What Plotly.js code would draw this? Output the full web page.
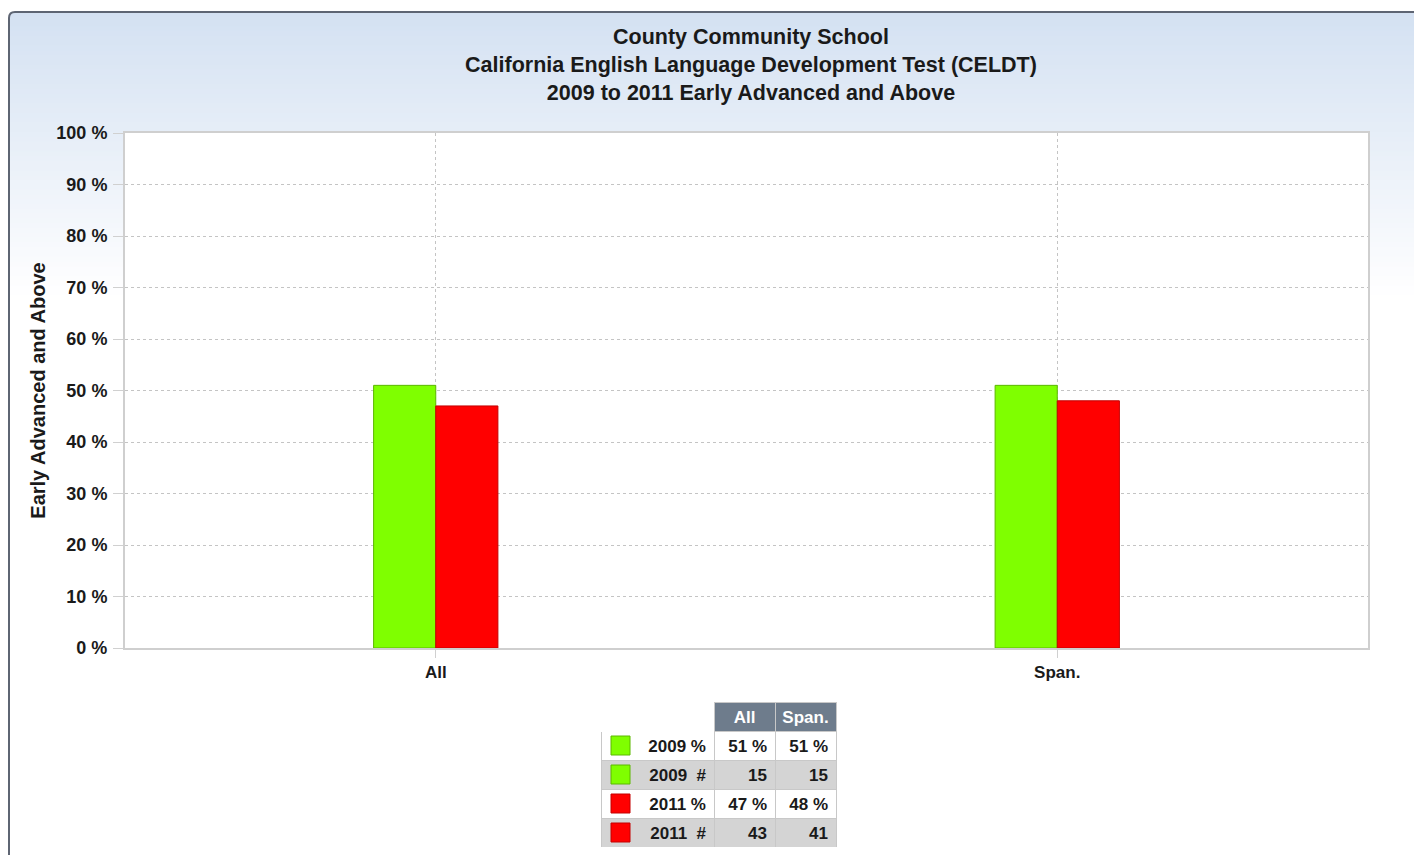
<!DOCTYPE html>
<html><head><meta charset="utf-8">
<script src="https://cdn.plot.ly/plotly-3.0.1.min.js"></script>
<style>html,body{margin:0;padding:0;background:#fff;overflow:hidden}</style>
</head><body><div id="chart" style="width:1414px;height:855px"></div>
<script>
// ---- data ----
const categories = ['All', 'Span.'];
const seriesNames = ['2009 %', '2011 %'];
const pct2009 = [51, 51];
const pct2011 = [47, 48];
const count2009 = [15, 15];
const count2011 = [43, 41];
const rowLabels = ['2009 %', '2009  #', '2011 %', '2011  #'];
const yTickVals = [0, 10, 20, 30, 40, 50, 60, 70, 80, 90, 100];
const yTickLabels = ['0 %', '10 %', '20 %', '30 %', '40 %', '50 %', '60 %', '70 %', '80 %', '90 %', '100 %'];
const titleLines = ['County Community School', 'California English Language Development Test (CELDT)', '2009 to 2011 Early Advanced and Above'];
const yTitle = 'Early Advanced and Above';

// ---- styles ----
const W = 1414, H = 855;
const M = {l: 125, r: 46, t: 133, b: 8};
const plotBottomPx = 648;
const fam = 'Liberation Sans, Arial, sans-serif';
const green = '#7fff00', greenLine = '#5cb800';
const red = '#ff0000', redLine = '#c40000';
const px2x = p => (p - M.l) / (W - M.l - M.r);
const py2y = p => (H - M.b - p) / (H - M.t - M.b);

const bold = (size, color) => ({family: fam, size: size, color: color || '#1a1a1a', weight: 'bold'});

// ---- traces ----
const traces = [
  {type: 'bar', x: categories, y: pct2009, name: seriesNames[0],
   marker: {color: green, line: {color: greenLine, width: 1}}},
  {type: 'bar', x: categories, y: pct2011, name: seriesNames[1],
   marker: {color: red, line: {color: redLine, width: 1}}}
];

const colAll = [pct2009[0] + ' %', String(count2009[0]), pct2011[0] + ' %', String(count2011[0])];
const colSpan = [pct2009[1] + ' %', String(count2009[1]), pct2011[1] + ' %', String(count2011[1])];
const rowFill = ['#ffffff', '#d4d4d4', '#ffffff', '#d4d4d4'];
const swatchFill = [green, green, red, red];
const swatchLine = [greenLine, greenLine, redLine, redLine];

traces.push({
  type: 'table',
  domain: {x: [px2x(601), px2x(836)], y: [0, py2y(702)]},
  columnwidth: [113, 61, 61],
  header: {
    values: ['', categories[0], categories[1]],
    height: 29,
    align: 'center',
    fill: {color: ['#ffffff', '#6e7c8c', '#6e7c8c']},
    line: {color: ['#ffffff', '#c8c8c8', '#c8c8c8'], width: 1},
    font: bold(17, '#ffffff')
  },
  cells: {
    values: [rowLabels, colAll, colSpan],
    height: 29,
    align: ['right', 'right', 'right'],
    fill: {color: [rowFill, rowFill, rowFill]},
    line: {color: '#c8c8c8', width: 1},
    font: bold(17, '#1a1a1a')
  }
});

// ---- decoration shapes ----
const shapes = [];
const gTop = 12, gBot = 300, nBands = 60;
const c0 = [212, 225, 242], c1 = [255, 255, 255];
for (let i = 0; i < nBands; i++) {
  const t = i / (nBands - 1);
  const c = c0.map((v, k) => Math.round(v + (c1[k] - v) * t));
  const y0 = gTop + (gBot - gTop) * i / nBands;
  const y1 = gTop + (gBot - gTop) * (i + 1) / nBands + 1;
  shapes.push({type: 'rect', xref: 'paper', yref: 'paper', layer: 'below',
    x0: px2x(10), x1: px2x(W + 5), y0: py2y(y1), y1: py2y(y0),
    fillcolor: `rgb(${c[0]},${c[1]},${c[2]})`, line: {width: 0}});
}
// white plot area
shapes.push({type: 'rect', xref: 'paper', yref: 'paper', layer: 'below',
  x0: 0, x1: 1, y0: py2y(plotBottomPx), y1: 1, fillcolor: '#ffffff', line: {width: 0}});
// frame border (top-left rounded)
const fx = px2x(9), fy = py2y(12), r = 6;
shapes.push({type: 'path', xref: 'paper', yref: 'paper', layer: 'above',
  path: `M ${fx} ${py2y(H + 5)} L ${fx} ${py2y(12 + r)} Q ${fx} ${fy} ${px2x(9 + r)} ${fy} L ${px2x(W + 5)} ${fy}`,
  line: {color: '#5e6573', width: 2}});
// legend swatches in table
rowLabels.forEach((lab, i) => {
  const top = 702 + 29 * (i + 1) + 5;
  shapes.push({type: 'rect', xref: 'paper', yref: 'paper', layer: 'above',
    x0: px2x(611), x1: px2x(630), y0: py2y(top + 19), y1: py2y(top),
    fillcolor: swatchFill[i], line: {color: swatchLine[i], width: 1}});
});

const layout = {
  width: W, height: H,
  margin: M,
  paper_bgcolor: '#ffffff',
  plot_bgcolor: '#ffffff',
  showlegend: false,
  hovermode: false,
  barmode: 'group',
  bargap: 0.8,
  bargroupgap: 0,
  title: {
    text: titleLines.join('<br>'),
    font: {family: fam, size: 21.5, color: '#1a1a1a', weight: 'bold'},
    xref: 'paper', x: px2x(751), xanchor: 'center',
    yref: 'container', y: 1 - 44 / H, yanchor: 'top'
  },
  xaxis: {
    type: 'category', range: [-0.5, 1.5],
    showgrid: true, gridcolor: '#c4c4c4', griddash: 'dot', gridwidth: 1,
    ticks: 'outside', ticklen: 8, tickcolor: '#d0d0d0',
    showline: true, mirror: true, linecolor: '#cfcfcf', linewidth: 2,
    tickfont: bold(17), zeroline: false
  },
  yaxis: {
    domain: [py2y(plotBottomPx), 1],
    range: [0, 100], tickmode: 'array', tickvals: yTickVals, ticktext: yTickLabels,
    showgrid: true, gridcolor: '#c4c4c4', griddash: 'dot', gridwidth: 1,
    ticks: 'outside', ticklen: 10, tickcolor: '#d0d0d0',
    showline: true, mirror: true, linecolor: '#cfcfcf', linewidth: 2,
    tickfont: bold(18), zeroline: false,
    ticklabelstandoff: 2,
    title: {text: yTitle, font: bold(20), standoff: 5}
  },
  shapes: shapes
};

Plotly.newPlot('chart', traces, layout, {staticPlot: true, displayModeBar: false});
</script>
</body></html>
